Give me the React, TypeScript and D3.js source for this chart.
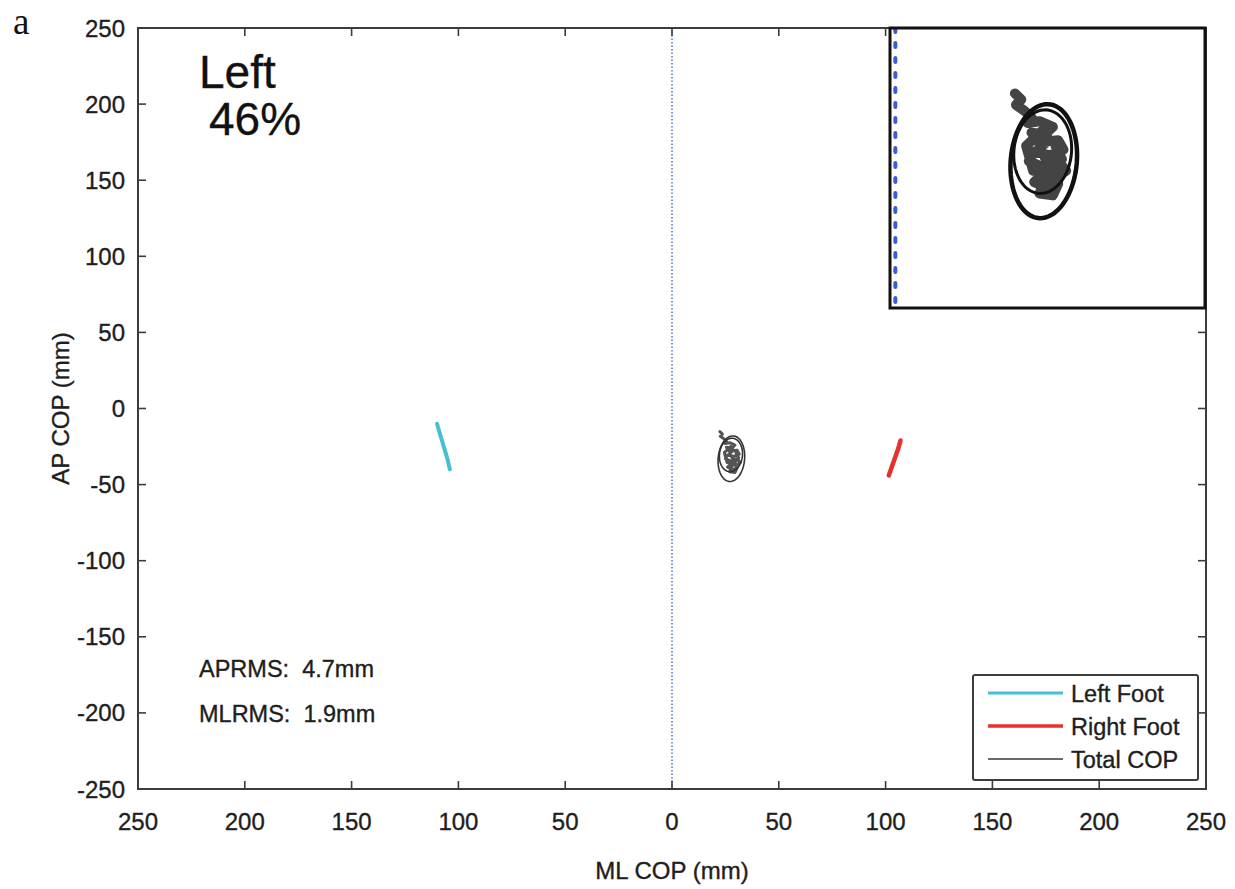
import React from "react";
import * as d3 from "d3";

const xTicks = [-250, -200, -150, -100, -50, 0, 50, 100, 150, 200, 250];
const yTicks = [250, 200, 150, 100, 50, 0, -50, -100, -150, -200, -250];

const leftFoot: [number, number][] = [
  [-110, -10], [-109, -15], [-107.5, -22], [-106, -29], [-105, -34], [-104, -40],
];
const rightFoot: [number, number][] = [
  [107, -21], [106, -26], [104.5, -32], [103, -38], [101.5, -44],
];
const totalCop: [number, number][] = [
  [22.4, -15.2], [23.6, -16.8], [22.6, -18.2], [24.2, -19.8], [25.5, -21.5], [24.8, -23],
  [27, -22.5], [29.5, -24], [28, -26], [25.5, -25.5], [26.8, -28], [30.5, -27.5],
  [31.5, -30], [29, -31.5], [26, -30.5], [25, -33], [27.5, -34.5], [30.5, -33],
  [32, -35.5], [30, -37.5], [27.5, -36.5], [26, -38.5], [28.5, -40], [30.5, -39],
  [29.5, -42], [27, -41.5], [28, -38], [29.8, -35], [28.2, -32.5], [27, -29.5],
  [28.8, -27.5], [27.5, -25], [26, -27], [24.5, -29], [25.8, -35.5], [29, -36],
  [31.2, -32.5], [30, -29],
];
// ellipses: cx, cy, rx, ry, angle(deg)
const ellipses: [number, number, number, number, number][] = [
  [27.8, -33, 6.2, 15.0, -3],
  [27.6, -30.5, 5.4, 11.0, -3],
];
const legendItems = [
  { label: "Left Foot", color: "#45c0d2", width: 3 },
  { label: "Right Foot", color: "#e8302c", width: 3.5 },
  { label: "Total COP", color: "#6a6a6a", width: 2 },
];
const statLines = ["APRMS:  4.7mm", "MLRMS:  1.9mm"];

const FONT = "'Liberation Sans', Arial, sans-serif";

function ellipsePts(e: [number, number, number, number, number]): [number, number][] {
  const [cx, cy, rx, ry, ang] = e;
  const a = (ang * Math.PI) / 180;
  const pts: [number, number][] = [];
  for (let i = 0; i < 72; i++) {
    const t = (i / 72) * Math.PI * 2;
    const px = rx * Math.cos(t);
    const py = ry * Math.sin(t);
    pts.push([cx + px * Math.cos(a) - py * Math.sin(a), cy + px * Math.sin(a) + py * Math.cos(a)]);
  }
  return pts;
}

export default function App() {
  const W = 1235, H = 889;
  const L = 138, R = 1206, T = 28, B = 789;
  const x = d3.scaleLinear().domain([-250, 250]).range([L, R]);
  const y = d3.scaleLinear().domain([-250, 250]).range([B, T]);

  const IL = 890, IR = 1205, IT = 28, IB = 308;
  const xi = d3.scaleLinear().domain([-1, 58]).range([IL, IR]);
  const yi = d3.scaleLinear().domain([2, -71.6]).range([IT, IB]);

  const line = d3.line<[number, number]>().x((d) => x(d[0])).y((d) => y(d[1]));
  const lineC = d3.line<[number, number]>().x((d) => x(d[0])).y((d) => y(d[1])).curve(d3.curveLinearClosed);
  const lineI = d3.line<[number, number]>().x((d) => xi(d[0])).y((d) => yi(d[1]));
  const lineIC = d3.line<[number, number]>().x((d) => xi(d[0])).y((d) => yi(d[1])).curve(d3.curveLinearClosed);

  const axisColor = "#3c3c3c";
  const tickLen = 8;
  const txt = { fontFamily: FONT, fill: "#1e1e1e", stroke: "#1e1e1e", strokeWidth: 0.35 } as const;

  return (
    <svg width={W} height={H} style={{ position: "absolute", left: 0, top: 0, background: "#fff" }}>
      <rect x={0} y={0} width={W} height={H} fill="#fff" />
      <text x={13} y={34} fontFamily="'Liberation Serif', 'DejaVu Serif', serif" fontSize={37} fill="#111">a</text>

      {/* zero line */}
      <line x1={x(0)} x2={x(0)} y1={T} y2={B} stroke="#4a5fd0" strokeWidth={1.4} strokeDasharray="1.5,2" />

      {/* data */}
      <path d={line(leftFoot) || ""} fill="none" stroke="#45c0d2" strokeWidth={4} strokeLinecap="round" strokeLinejoin="round" />
      <path d={line(rightFoot) || ""} fill="none" stroke="#e8302c" strokeWidth={4.5} strokeLinecap="round" strokeLinejoin="round" />
      <path d={line(totalCop) || ""} fill="none" stroke="#555" strokeWidth={3} strokeLinejoin="round" strokeLinecap="round" />
      {ellipses.map((e, i) => (
        <path key={i} d={lineC(ellipsePts(e)) || ""} fill="none" stroke="#333" strokeWidth={1.6} />
      ))}

      {/* axes box */}
      <rect x={L} y={T} width={R - L} height={B - T} fill="none" stroke={axisColor} strokeWidth={2} />
      {xTicks.map((t) => (
        <g key={"xt" + t}>
          <line x1={x(t)} x2={x(t)} y1={B} y2={B - tickLen} stroke={axisColor} strokeWidth={1.6} />
          <line x1={x(t)} x2={x(t)} y1={T} y2={T + tickLen} stroke={axisColor} strokeWidth={1.6} />
          <text x={x(t)} y={830} textAnchor="middle" fontSize={24} {...txt}>{Math.abs(t)}</text>
        </g>
      ))}
      {yTicks.map((t) => (
        <g key={"yt" + t}>
          <line x1={L} x2={L + tickLen} y1={y(t)} y2={y(t)} stroke={axisColor} strokeWidth={1.6} />
          <line x1={R} x2={R - tickLen} y1={y(t)} y2={y(t)} stroke={axisColor} strokeWidth={1.6} />
          <text x={125} y={y(t) + 8.5} textAnchor="end" fontSize={24} {...txt}>{t}</text>
        </g>
      ))}

      <text x={x(0)} y={879} textAnchor="middle" fontSize={24} {...txt}>ML COP (mm)</text>
      <text transform={`translate(69,${y(0)}) rotate(-90)`} textAnchor="middle" fontSize={24} {...txt}>AP COP (mm)</text>

      <text x={199} y={88} fontSize={46} {...txt} fill="#111">Left</text>
      <text x={209} y={135} fontSize={46} {...txt} fill="#111">46%</text>

      {statLines.map((s, i) => (
        <text key={s} x={199} y={677 + i * 45} fontSize={23.5} {...txt} style={{ whiteSpace: "pre" }}>{s}</text>
      ))}

      {/* legend */}
      <rect x={973} y={675} width={225} height={105} rx={2} fill="#fff" stroke={axisColor} strokeWidth={2} />
      {legendItems.map((d, i) => (
        <g key={d.label}>
          <line x1={988} x2={1063} y1={693 + i * 33} y2={693 + i * 33} stroke={d.color} strokeWidth={d.width} />
          <text x={1071} y={702 + i * 33} fontSize={23.5} {...txt}>{d.label}</text>
        </g>
      ))}

      {/* inset */}
      <defs>
        <clipPath id="insetClip">
          <rect x={IL} y={IT} width={IR - IL} height={IB - IT} />
        </clipPath>
      </defs>
      <rect x={IL} y={IT} width={IR - IL} height={IB - IT} fill="#fff" />
      <g clipPath="url(#insetClip)">
        <line x1={xi(0)} x2={xi(0)} y1={IT} y2={IB} stroke="#3d5ad8" strokeWidth={4} strokeDasharray="4,11" strokeLinecap="round" />
        <path d={lineI(totalCop) || ""} fill="none" stroke="#444" strokeWidth={10} strokeLinejoin="round" strokeLinecap="round" />
        {ellipses.map((e, i) => (
          <path key={i} d={lineIC(ellipsePts(e)) || ""} fill="none" stroke="#111" strokeWidth={i === 0 ? 4.5 : 3} />
        ))}
      </g>
      <rect x={IL} y={IT} width={IR - IL} height={IB - IT} fill="none" stroke="#111" strokeWidth={3} />
    </svg>
  );
}
